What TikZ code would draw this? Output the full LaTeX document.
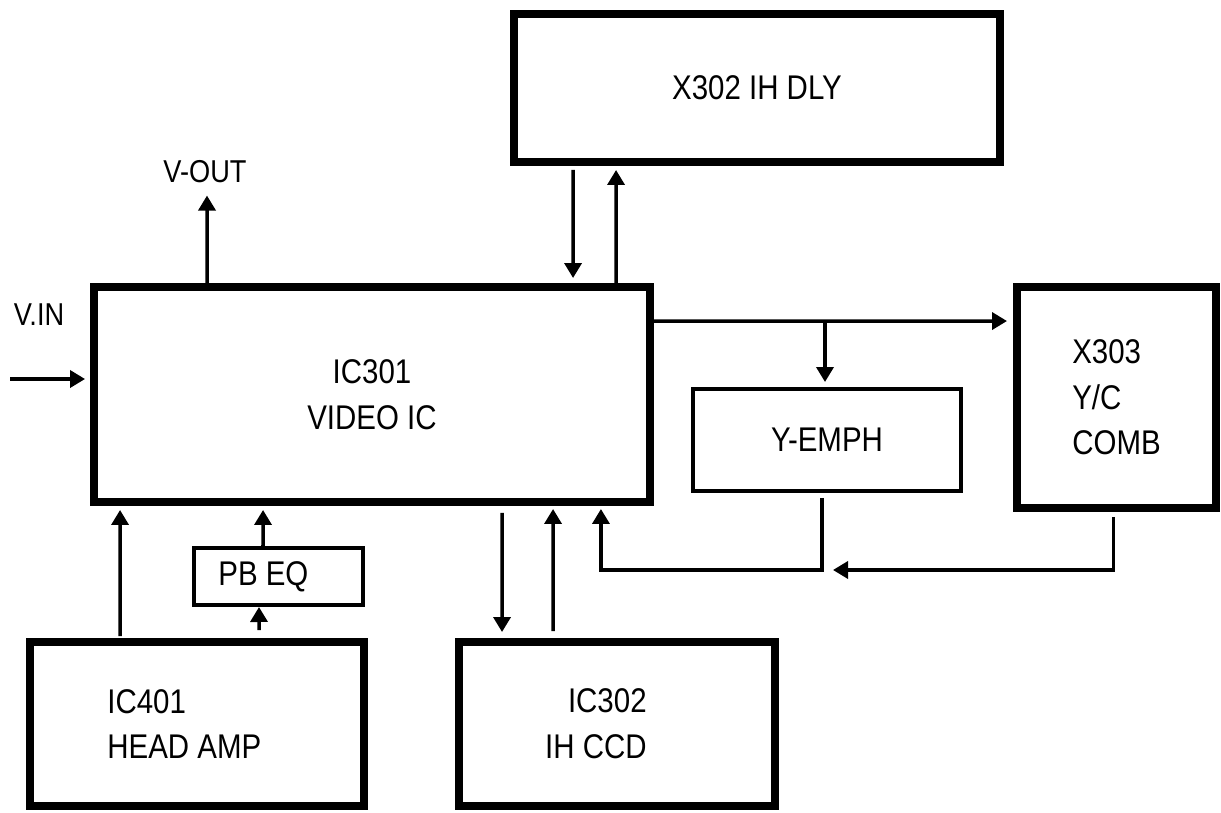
\documentclass[tikz,border=0pt]{standalone}
\usepackage{fontspec}
\setmainfont{Liberation Sans}[FakeStretch=0.86]
\usepackage{tikz}
\usetikzlibrary{arrows.meta, positioning, calc}

\begin{document}
\begin{tikzpicture}[
    x=0.02cm, y=-0.02cm,
    bigblock/.style={rectangle, draw=black, line width=4.8pt, outer sep=0pt, inner sep=0pt, font=\fontsize{19.5pt}{26pt}\selectfont, align=center},
    smallblock/.style={rectangle, draw=black, line width=1.8pt, outer sep=0pt, inner sep=0pt, font=\fontsize{19.5pt}{26pt}\selectfont, align=center},
    txt/.style={inner sep=0pt, font=\fontsize{19.5pt}{26pt}\selectfont},
    sig/.style={inner sep=0pt, font=\fontsize{18pt}{22pt}\selectfont},
    arr/.style={-{Triangle[length=0.3cm, width=0.34cm]}, line width=2pt}
]
\useasboundingbox (0,0) rectangle (1221,812);

% Main blocks
\node[bigblock, minimum width=11.12cm, minimum height=4.3cm] (vic) at (372,394.5) {IC301\\VIDEO IC};
\node[bigblock, minimum width=9.72cm, minimum height=2.96cm] (dly) at (757,88) {X302 IH DLY};
\node[bigblock, minimum width=3.98cm, minimum height=4.42cm, align=left] (comb) at (1116.5,397.5) {X303\\Y/C\\COMB};
\node[smallblock, minimum width=5.36cm, minimum height=2.04cm] (emph) at (827,440) {Y-EMPH};

% Bottom blocks
\node[smallblock, minimum width=3.38cm, minimum height=1.14cm] (pbeq) at (278.5,576.5) {};
\node[txt, right=0.48cm of pbeq.west] (pbtxt) {PB EQ};
\node[bigblock, minimum width=6.68cm, minimum height=3.28cm] (amp) at (197,724) {};
\node[txt, align=left, right=1.54cm of amp.west] (amptxt) {IC401\\HEAD AMP};
\node[bigblock, minimum width=6.32cm, minimum height=3.28cm] (ccd) at (617,724) {};
\node[txt, align=right, left=2.56cm of ccd.east] (ccdtxt) {IC302\\IH CCD};

% Signals in and out
\node[sig] (vout) at (205,172) {V-OUT};
\node[sig] (vin) at (39,315) {V.IN};
\coordinate (vinsrc) at (10,379);

\draw[arr] (vinsrc) -- ($(vinsrc -| vic.west)+(-9,0)$);
\draw[arr] ($(vic.north west)+(113,0)$) -- ($(vout.south)+(2,12)$);

% 1H delay loop
\draw[arr] ($(dly.south west)+(59,8)$) -- ($(vic.north west)+(479,-9)$);
\draw[arr] ($(vic.north west)+(522,0)$) -- ($(dly.south west)+(102,8)$);

% Y/C comb and emphasis
\draw[arr] ($(vic.north east)+(0,34)$) -- ($(comb.north west)+(-10,34)$);
\draw[arr] ($(emph.north)+(-2,-68)$) -- ($(emph.north)+(-2,-7)$);
\draw[arr] ($(emph.south)+(-5,7)$) -- ($(emph.south)+(-5,79)$) -| ($(vic.south east)+(-49,7)$);
\draw[arr] ($(comb.south)+(-3,9)$) |- ($(emph.south)+(6,79)$);

% Playback path
\draw[arr] ($(amp.north west)+(90,-6)$) -- ($(vic.south west)+(26,8)$);
\draw[arr] ($(amp.north west)+(229,-12)$) -- ($(pbeq.south)+(-19.5,2)$);
\draw[arr] ($(pbeq.north)+(-15.5,0)$) -- ($(vic.south west)+(169,8)$);

% 1H CCD
\draw[arr] ($(vic.south west)+(408,11)$) -- ($(ccd.north west)+(43,-10)$);
\draw[arr] ($(ccd.north west)+(94,-11)$) -- ($(vic.south west)+(459,7)$);

\end{tikzpicture}
\end{document}
